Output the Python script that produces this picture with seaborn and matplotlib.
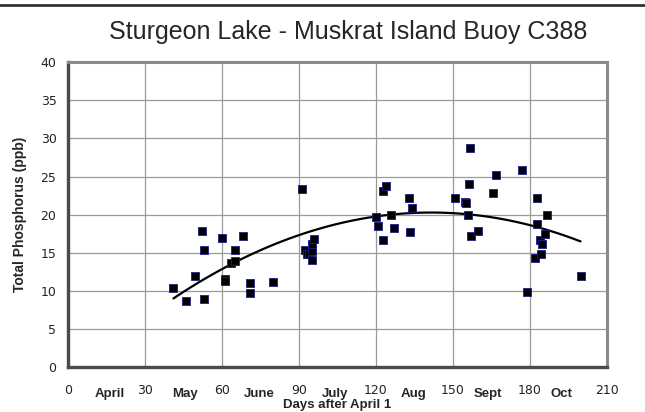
import numpy as np
import pandas as pd
import matplotlib.pyplot as plt
import matplotlib.transforms as mtransforms
from matplotlib.lines import Line2D
import seaborn as sns

# Sampling day (days after April 1) and total phosphorus (ppb)
days = [41.0, 45.9, 49.3, 52.0, 52.9, 52.9, 59.9, 61.0, 61.0, 63.3, 65.1, 65.1,
        68.0, 71.0, 71.0, 80.0, 91.0, 92.3, 93.0, 94.0, 94.9, 94.9, 95.8, 94.9,
        120.0, 120.9, 122.9, 122.9, 123.9, 125.7, 127.0, 132.9, 133.9, 133.3,
        150.8, 154.8, 155.0, 156.3, 156.8, 155.9, 157.0, 159.9, 165.8, 166.9,
        176.8, 178.8, 181.9, 182.8, 182.8, 184.2, 184.0, 184.7, 185.9, 186.8,
        199.8]
tp = [10.4, 8.7, 11.9, 17.9, 15.3, 8.9, 16.9, 11.5, 11.3, 13.6, 15.4, 13.9,
      17.2, 11.0, 9.7, 11.2, 23.4, 15.3, 14.8, 14.8, 15.2, 16.2, 16.8, 14.0,
      19.7, 18.5, 16.7, 23.1, 23.7, 19.9, 18.3, 22.2, 20.9, 17.7,
      22.2, 21.7, 21.5, 24.0, 28.8, 19.95, 17.2, 17.8, 22.8, 25.2,
      25.8, 9.8, 14.3, 22.2, 18.8, 14.9, 16.7, 16.2, 17.5, 19.95,
      12.0]

x_ticks = [0, 30, 60, 90, 120, 150, 180, 210]
y_ticks = [0, 5, 10, 15, 20, 25, 30, 35, 40]
months = ['April', 'May', 'June', 'July', 'Aug', 'Sept', 'Oct']
month_pos = [16, 45.5, 74.5, 104, 134.5, 163.5, 192.5]

df = pd.DataFrame({'day': days, 'tp': tp})

# 2nd order polynomial trendline (like Excel's)
coef = np.polyfit(df['day'], df['tp'], 2)
xs = np.linspace(df['day'].min(), df['day'].max(), 120)
trend = pd.DataFrame({'day': xs, 'tp': np.polyval(coef, xs)})

sns.set_style('white')
plt.rcParams['font.family'] = ['DejaVu Sans']

fig = plt.figure(figsize=(6.45, 4.12), dpi=100)
ax = fig.add_axes([0.1059, 0.1092, 0.8347, 0.7396])

sns.lineplot(data=trend, x='day', y='tp', color='black', lw=1.6, ax=ax, zorder=3)
sns.scatterplot(data=df, x='day', y='tp', marker='s', s=30, color='black',
                edgecolor='#1c1c8c', linewidth=0.6, ax=ax, zorder=4)

ax.set_xlim(0, 210)
ax.set_ylim(0, 40)
ax.set_xticks(x_ticks)
ax.set_yticks(y_ticks)
ax.grid(True, color='#9a9a9a', lw=0.9)
ax.set_axisbelow(True)
ax.tick_params(axis='both', which='both', direction='out', length=3.5, width=1,
               color='#555555', labelsize=9, labelcolor='#222222')
ax.tick_params(axis='x', pad=9)
ax.tick_params(axis='y', pad=5)
for side in ['left', 'bottom']:
    ax.spines[side].set_color('#4a4a4a')
    ax.spines[side].set_linewidth(2.4)
for side in ['top', 'right']:
    ax.spines[side].set_color('#8a8a8a')
    ax.spines[side].set_linewidth(2.2)

ax.set_xlabel('Days after April 1', family='Liberation Sans', fontweight='bold',
              fontsize=9.5, labelpad=1)
ax.set_ylabel('Total Phosphorus (ppb)', family='Liberation Sans', fontweight='bold',
              fontsize=10, labelpad=10)

# month names between the numeric ticks
trans = mtransforms.blended_transform_factory(ax.transData, ax.transAxes)
for m, p in zip(months, month_pos):
    ax.text(p, -0.088, m, transform=trans, ha='center', va='center',
            family='Liberation Sans', fontweight='bold', fontsize=9.5)

fig.text(0.54, 0.922, 'Sturgeon Lake - Muskrat Island Buoy C388',
         family='Liberation Sans', fontsize=18, ha='center', va='center')

# rule along the top edge
fig.add_artist(Line2D([0, 1], [0.987, 0.987], transform=fig.transFigure,
                      color='#333333', lw=2))

fig.savefig('out.png', dpi=100)
